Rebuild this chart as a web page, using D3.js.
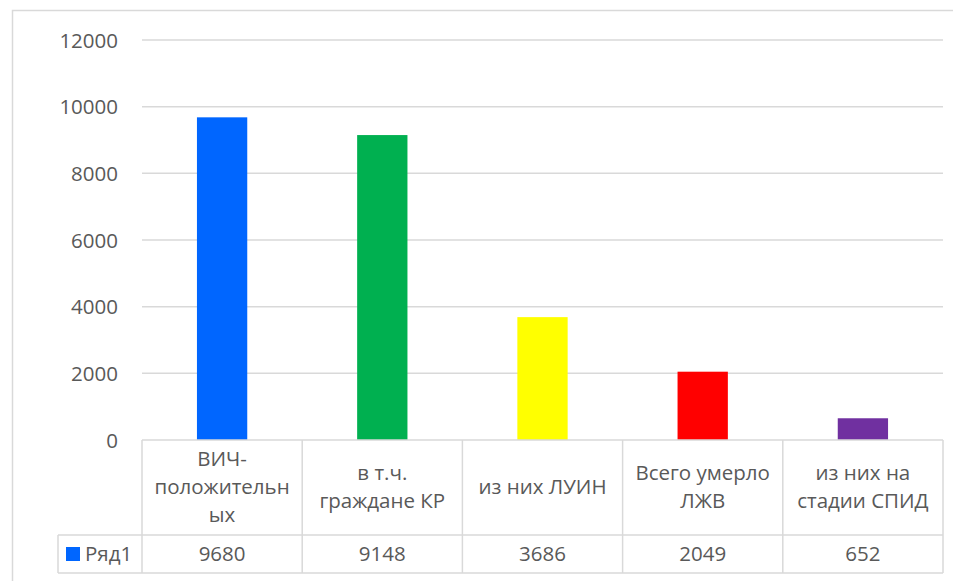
<!DOCTYPE html>
<html>
<head>
<meta charset="utf-8">
<script src="https://cdn.jsdelivr.net/npm/d3@7"></script>
<style>
  html, body { margin: 0; padding: 0; background: #fff; }
  svg { display: block; }
  text { font-family: "Open Sans", "Noto Sans", sans-serif; fill: #595959; }
</style>
</head>
<body>
<svg id="chart" width="953" height="581"></svg>
<script>
const categories = ["ВИЧ-положительных", "в т.ч. граждане КР", "из них ЛУИН", "Всего умерло ЛЖВ", "из них на стадии СПИД"];
const categoryLines = [["ВИЧ-", "положительн", "ых"], ["в т.ч.", "граждане КР"], ["из них ЛУИН"], ["Всего умерло", "ЛЖВ"], ["из них на", "стадии СПИД"]];
const values = [9680, 9148, 3686, 2049, 652];
const barColors = ["#0066FF", "#00B050", "#FFFF00", "#FF0000", "#7030A0"];
const seriesName = "Ряд1";
const yTicks = [0, 2000, 4000, 6000, 8000, 10000, 12000];

const svg = d3.select("#chart");
const plot = { left: 142, right: 943, top: 40, bottom: 440 };
const table = { catBottom: 535, valBottom: 573, legendLeft: 58 };
const grid = "#D9D9D9";
const fs = 20.5;

// outer chart border
svg.append("rect").attr("x", 12.5).attr("y", 10.5).attr("width", 1000).attr("height", 1000)
  .attr("fill", "none").attr("stroke", grid).attr("stroke-width", 1.5);

const x = d3.scaleBand().domain(categories).range([plot.left, plot.right]).paddingInner(0.686).paddingOuter(0.343);
const xCell = d3.scaleBand().domain(categories).range([plot.left, plot.right]);
const y = d3.scaleLinear().domain([0, 12000]).range([plot.bottom, plot.top]);

// gridlines
svg.append("g").selectAll("line").data(yTicks.filter(d => d > 0)).join("line")
  .attr("x1", plot.left).attr("x2", plot.right)
  .attr("y1", d => y(d)).attr("y2", d => y(d))
  .attr("stroke", grid).attr("stroke-width", 1.5);

// y axis labels
const yAxis = d3.axisLeft(y).tickValues(yTicks).tickSize(0).tickPadding(0).tickFormat(d3.format("d"));
const ya = svg.append("g").attr("transform", `translate(118,0)`).call(yAxis);
ya.select(".domain").remove();
ya.selectAll("text").attr("font-size", fs).attr("font-family", '"Open Sans", sans-serif').attr("fill", "#595959").attr("dy", "0.35em");

// bars
svg.append("g").selectAll("rect").data(values).join("rect")
  .attr("x", (d, i) => x(categories[i]))
  .attr("width", x.bandwidth())
  .attr("y", d => y(d))
  .attr("height", d => y(0) - y(d))
  .attr("fill", (d, i) => barColors[i]);

// data table lines
const tl = svg.append("g").attr("stroke", grid).attr("stroke-width", 1.5);
tl.append("line").attr("x1", plot.left).attr("x2", plot.right).attr("y1", plot.bottom).attr("y2", plot.bottom);
tl.append("line").attr("x1", table.legendLeft).attr("x2", plot.right).attr("y1", table.catBottom).attr("y2", table.catBottom);
tl.append("line").attr("x1", table.legendLeft).attr("x2", plot.right).attr("y1", table.valBottom).attr("y2", table.valBottom);
tl.append("line").attr("x1", table.legendLeft).attr("x2", table.legendLeft).attr("y1", table.catBottom).attr("y2", table.valBottom);
const bounds = categories.map(c => xCell(c)).concat([plot.right]);
tl.selectAll("line.v").data(bounds).join("line").attr("class", "v")
  .attr("x1", d => d).attr("x2", d => d).attr("y1", plot.bottom).attr("y2", table.valBottom);

// category labels
const lineH = 28;
const catMid = (plot.bottom + table.catBottom) / 2 - 1;
categories.forEach((c, i) => {
  const lines = categoryLines[i];
  const cx = xCell(c) + xCell.bandwidth() / 2;
  const t = svg.append("text").attr("text-anchor", "middle").attr("font-size", fs);
  lines.forEach((ln, j) => {
    t.append("tspan").attr("x", cx)
      .attr("y", catMid + (j - (lines.length - 1) / 2) * lineH)
      .attr("dy", "0.35em").text(ln);
  });
});

// values row
const valMid = (table.catBottom + table.valBottom) / 2;
svg.append("g").selectAll("text").data(values).join("text")
  .attr("x", (d, i) => xCell(categories[i]) + xCell.bandwidth() / 2)
  .attr("y", valMid).attr("dy", "0.35em")
  .attr("text-anchor", "middle").attr("font-size", fs)
  .text(d => d);

// legend key
svg.append("rect").attr("x", 66).attr("y", valMid - 7).attr("width", 14).attr("height", 14).attr("fill", barColors[0]);
svg.append("text").attr("x", 85).attr("y", valMid).attr("dy", "0.35em").attr("font-size", fs).text(seriesName);
</script>
</body>
</html>
